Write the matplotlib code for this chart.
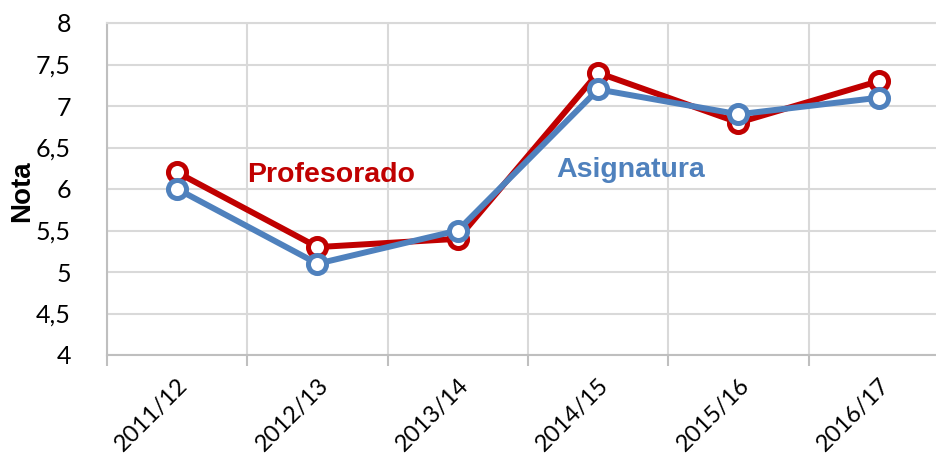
import matplotlib.pyplot as plt
from matplotlib.ticker import FixedLocator

# datos
cursos = ["2011/12", "2012/13", "2013/14", "2014/15", "2015/16", "2016/17"]
profesorado = [6.2, 5.3, 5.4, 7.4, 6.8, 7.3]
asignatura = [6.0, 5.1, 5.5, 7.2, 6.9, 7.1]
y_ticks = [4, 4.5, 5, 5.5, 6, 6.5, 7, 7.5, 8]
y_labels = ["4", "4,5", "5", "5,5", "6", "6,5", "7", "7,5", "8"]

rojo = "#C00000"
azul = "#4F81BD"
gris = "#D9D9D9"

fig = plt.figure(figsize=(9.37, 4.57), dpi=100)
ax = fig.add_axes([107 / 937, 102 / 457, 842 / 937, 332 / 457])

x = list(range(len(cursos)))
ax.plot(x, profesorado, color=rojo, lw=4.3, marker="o", ms=13, mew=3.6,
        mfc="white", mec=rojo, zorder=3, clip_on=False)
ax.plot(x, asignatura, color=azul, lw=4.3, marker="o", ms=13, mew=3.6,
        mfc="white", mec=azul, zorder=4, clip_on=False)

ax.set_xlim(-0.5, len(cursos) - 0.5)
ax.set_ylim(4, 8)

ax.set_xticks(x)
ax.set_xticklabels(cursos, rotation=45, ha="right", rotation_mode="anchor",
                   fontsize=17, family="Lato")
ax.xaxis.set_minor_locator(FixedLocator([i - 0.5 for i in range(len(cursos) + 1)]))
ax.tick_params(axis="x", which="major", length=0, pad=14)
ax.tick_params(axis="x", which="minor", length=8, width=1.5, color="#BFBFBF")
ax.set_yticks(y_ticks)
ax.set_yticklabels(y_labels, fontsize=18, family="Lato")
ax.tick_params(axis="y", length=0, pad=26)

ax.grid(axis="y", color=gris, lw=1.5)
ax.grid(axis="x", which="minor", color=gris, lw=1.5)
ax.set_axisbelow(True)

ax.spines["right"].set_visible(False)
ax.spines["top"].set_color(gris)
ax.spines["top"].set_linewidth(1.5)
for s in ["left", "bottom"]:
    ax.spines[s].set_color("#BFBFBF")
    ax.spines[s].set_linewidth(1.5)

fig.text(22 / 937, (457 - 191) / 457, "Nota", rotation=90, fontsize=20,
         fontweight="bold", family="Liberation Sans", ha="center", va="center")

ax.text(0.5, 6.17, "Profesorado", color=rojo, fontsize=20.5, fontweight="bold",
        family="Liberation Sans", va="center", ha="left")
ax.text(2.7, 6.23, "Asignatura", color=azul, fontsize=20.5, fontweight="bold",
        family="Liberation Sans", va="center", ha="left")

fig.savefig("out.png", dpi=100)
